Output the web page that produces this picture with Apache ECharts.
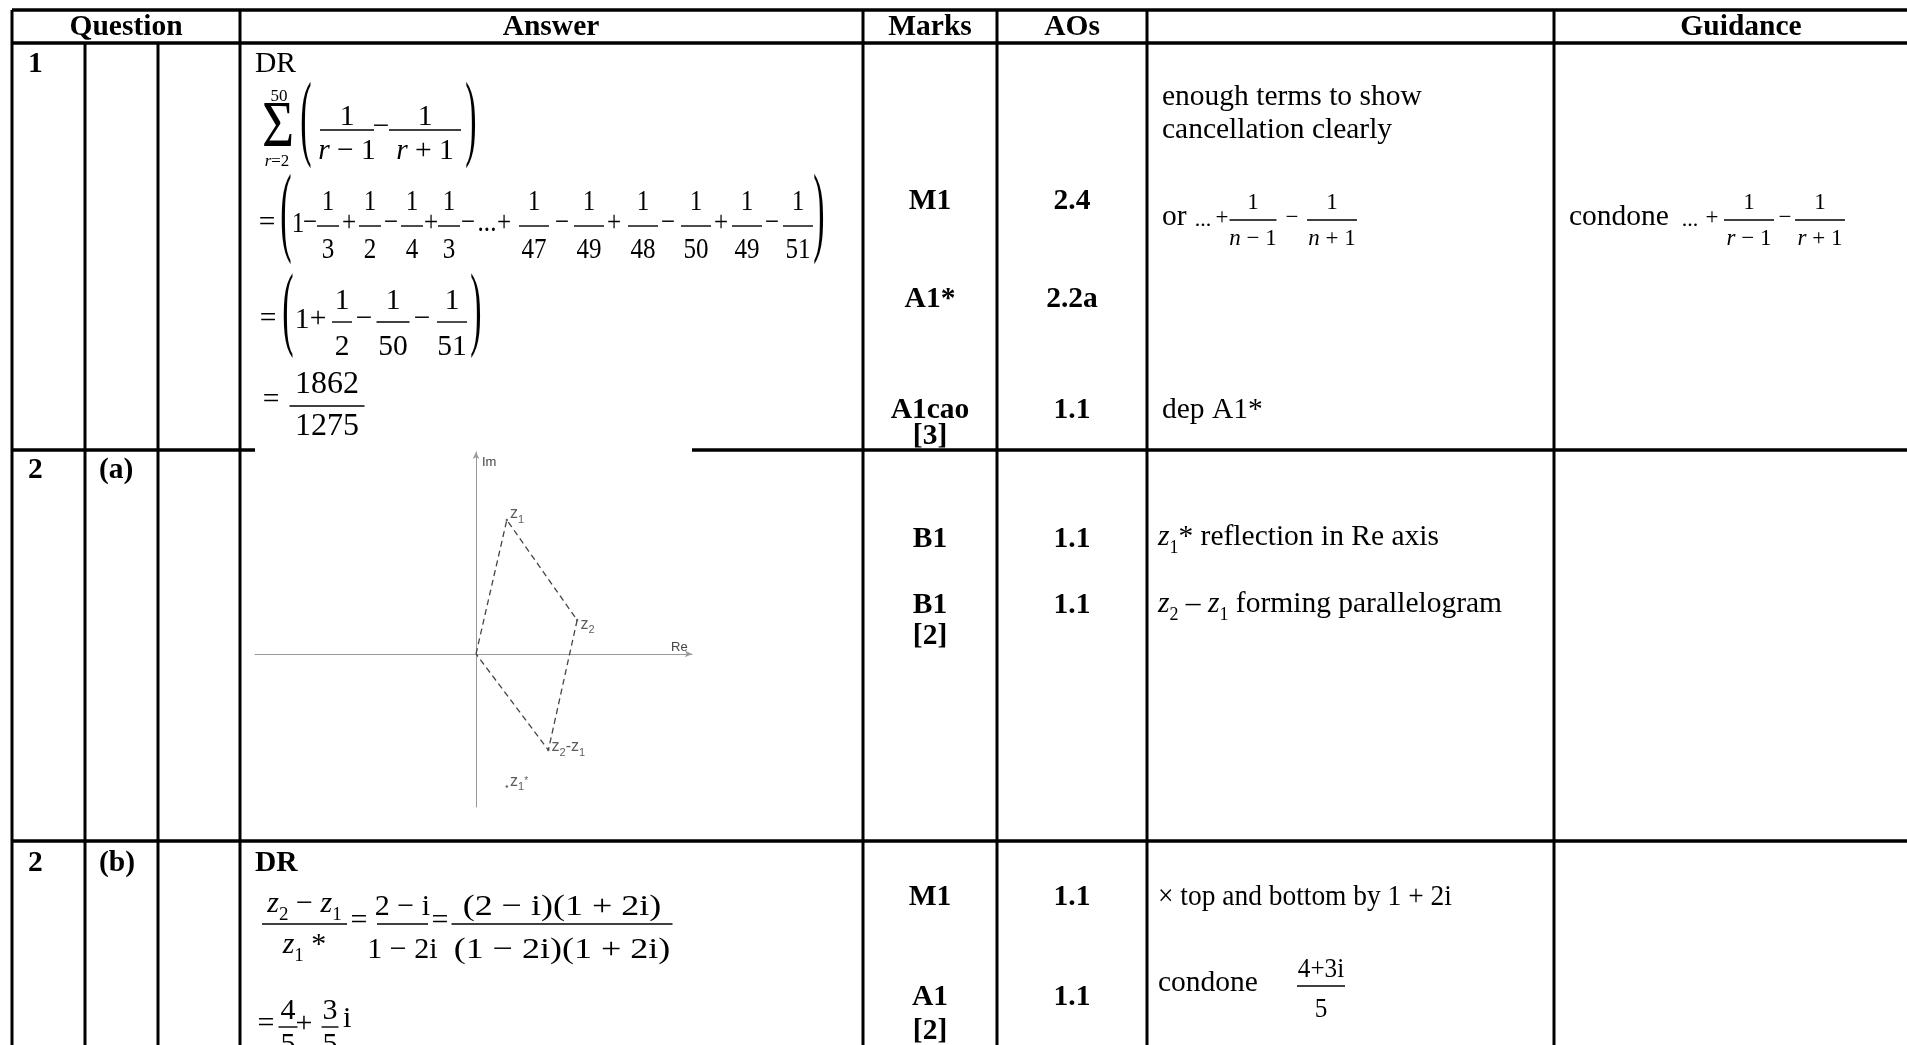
<!DOCTYPE html>
<html>
<head>
<meta charset="utf-8">
<title>Mark scheme</title>
<script src="https://cdn.jsdelivr.net/npm/echarts@6.0.0/dist/echarts.min.js"></script>
<style>
html, body { margin: 0; padding: 0; background: #fff; }
#chart { width: 1907px; height: 1045px; }
</style>
</head>
<body>
<div id="chart"></div>
<script>
// column headings
const headings = ['Question', 'Answer', 'Marks', 'AOs', '', 'Guidance']
const questionNumbers = ['1', '2', '2']
const questionParts = ['', '(a)', '(b)']
// marks and AOs, read top to bottom
const marks = ['M1', 'A1*', 'A1cao', '[3]', 'B1', 'B1', '[2]', 'M1', 'A1', '[2]']
const aos = ['2.4', '2.2a', '1.1', '', '1.1', '1.1', '', '1.1', '1.1', '']
// Argand diagram in Q2(a)
const pointNames = ['z1', 'z2', 'z2-z1', 'z1*']
const pointRe = [0.92, 3.02, 2.16, 0.92]
const pointIm = [4.0, 1.01, -2.87, -3.96]
const outline = ['O', 'z1', 'z2', 'z2-z1', 'O']
const reExtent = [-6.6, 6.45]
const imExtent = [-4.57, 6.03]

// table layout
const colX = [12, 85, 158, 240, 863, 997, 1147, 1554]
const rowY = [10, 43, 450, 841]
const headX = [126, 551, 930, 1072, 1350, 1741]
const questionY = [64, 470, 863]
const markY = [201, 299, 410, 436, 539, 605, 636, 897, 997, 1031]
const labelOffsets = [[0, -3], [0, 7], [0, 0], [0, -2]]

const SERIF = 'Liberation Serif'
const FS = 29.5
const els = []

function L(x1, y1, x2, y2, w) {
    els.push({type: 'line', silent: true, z: 50, shape: {x1, y1, x2, y2}, style: {stroke: '#000', lineWidth: w || 1.4}})
}

function T(x, y, text, o = {}) {
    els.push({
        type: 'text', x, y, scaleX: o.sx || 1, scaleY: o.sy || 1, silent: true, z: 100,
        style: {
            x: 0, y: 0, text, fill: '#000',
            fontFamily: SERIF, fontSize: o.fs || FS,
            fontWeight: o.bold ? 'bold' : 'normal',
            fontStyle: o.italic ? 'italic' : 'normal',
            align: o.align || 'left', verticalAlign: 'middle'
        }
    })
}

// rich text with italic letters and subscripts, parts = [[style, text], ...]
function M(x, y, parts, o = {}) {
    const fs = o.fs || FS
    const pad = Math.round(fs * 0.18)
    const base = {fontFamily: SERIF, fontSize: fs, lineHeight: fs, verticalAlign: 'bottom', padding: [0, 0, pad, 0]}
    const sub = Math.round(fs * 0.62)
    els.push({
        type: 'text', x, y: y + pad / 2, scaleX: o.sx || 1, silent: true, z: 100,
        style: {
            x: 0, y: 0, fill: '#000', fontFamily: SERIF, fontSize: fs,
            align: o.align || 'left', verticalAlign: 'middle',
            text: parts.map(p => '{' + p[0] + '|' + p[1] + '}').join(''),
            rich: {
                n: base,
                i: Object.assign({}, base, {fontStyle: 'italic'}),
                s: {fontFamily: SERIF, fontSize: sub, lineHeight: sub, verticalAlign: 'bottom'}
            }
        }
    })
}

function put(x, y, content, o) {
    if (Array.isArray(content)) M(x, y, content, Object.assign({align: 'center'}, o))
    else T(x, y, content, Object.assign({align: 'center'}, o))
}

function F(cx, bar, w, num, den, o = {}) {
    L(cx - w / 2, bar, cx + w / 2, bar, o.lw || 1.4)
    put(cx, bar - (o.up || 24), num, o)
    put(cx, bar + (o.dn || 24), den, o)
}

// operator centred on the maths axis
function OP(cx, axisY, ch, o = {}) {
    const fs = o.fs || FS
    T(cx, axisY - 0.08 * fs, ch, Object.assign({align: 'center'}, o))
}

// stretched bracket
function P(ch, cx, cy, h, o = {}) {
    const fs = FS
    const sy = h / (0.853 * fs)
    T(cx, cy - 0.088 * fs * sy, ch, {align: 'center', sx: o.sx || 1.15, sy})
}

// ---- table rules
L(colX[0], rowY[0], 1907, rowY[0], 3.5)
L(colX[0], rowY[1], 1907, rowY[1], 3.5)
L(colX[0], rowY[2], 255, rowY[2], 3.5)
L(692, rowY[2], 1907, rowY[2], 3.5)
L(colX[0], rowY[3], 1907, rowY[3], 3.5)
colX.forEach((x, k) => L(x, (k === 1 || k === 2) ? rowY[1] : rowY[0], x, 1045, 3))

// ---- headings and question numbers
headings.forEach((h, k) => { if (h) T(headX[k], 27, h, {bold: true, align: 'center'}) })
questionNumbers.forEach((q, k) => {
    T(28, questionY[k], q, {bold: true})
    if (questionParts[k]) T(99, questionY[k], questionParts[k], {bold: true})
})

// ---- marks and AOs
marks.forEach((m, k) => T(930, markY[k], m, {bold: true, align: 'center'}))
aos.forEach((a, k) => { if (a) T(1072, markY[k], a, {bold: true, align: 'center'}) })

// ---- Q1 answer
T(255, 64, 'DR')
T(278, 128.5, 'Σ', {fs: 48, sx: 1.15, sy: 1.35, align: 'center'})
T(279, 96.5, '50', {fs: 17, align: 'center'})
M(277, 163, [['i', 'r'], ['n', '=2']], {fs: 17, align: 'center'})
P('(', 306, 131, 82)
F(347, 130, 54, '1', [['i', 'r'], ['n', ' − 1']], {up: 13, dn: 24})
OP(381, 130, '−')
F(425, 130, 72, '1', [['i', 'r'], ['n', ' + 1']], {up: 13, dn: 24})
P(')', 471, 131, 82)

// telescoping line
const c3 = {sx: 0.85}
OP(267, 226, '=')
P('(', 286, 226, 84)
T(298, 224, '1', {align: 'center', sx: 0.85})
const teleOps = ['−', '+', '−', '+', '−', '−', '+', '−', '+', '−']
const teleDen = ['3', '2', '4', '3', '47', '49', '48', '50', '49', '51']
const teleOpX = [310, 349, 391, 431, 468, 562, 614, 668, 721, 772]
const teleFracX = [328, 370, 412, 449, 534, 589, 643, 696, 747, 798]
teleDen.forEach((d, k) => {
    OP(teleOpX[k], 226, teleOps[k], c3)
    F(teleFracX[k], 226, d.length > 1 ? 30 : 22, '1', d, {sx: 0.85, up: 24, dn: 24})
})
T(487, 223.5, '...', {align: 'center', sx: 0.85})
OP(504, 226, '+', c3)
P(')', 819, 226, 84)

// collapsed line
OP(268, 322, '=')
P('(', 288, 322, 80)
T(302, 320, '1', {align: 'center'})
OP(318, 322, '+')
F(342, 322, 20, '1', '2', {up: 21, dn: 25})
OP(364, 322, '−')
F(393, 322, 33, '1', '50', {up: 21, dn: 25})
OP(422, 322, '−')
F(452, 322, 30, '1', '51', {up: 21, dn: 25})
P(')', 476, 322, 80)

OP(271, 403, '=')
F(327, 406, 75, '1862', '1275', {fs: 32, up: 21, dn: 21})

// ---- Q2(b) answer
T(255, 863, 'DR', {bold: true})
F(304.5, 924, 85, [['i', 'z'], ['s', '2'], ['n', ' − '], ['i', 'z'], ['s', '1']],
    [['i', 'z'], ['s', '1'], ['n', ' *']], {fs: 30, up: 17, dn: 24})
OP(359, 924, '=', {fs: 30})
F(402.5, 924, 51, '2 − i', '1 − 2i', {fs: 30, up: 17, dn: 26})
OP(440, 924, '=', {fs: 30})
F(562, 924, 221, '(2 − i)(1 + 2i)', '(1 − 2i)(1 + 2i)', {fs: 30, sx: 1.2, up: 17, dn: 26})
OP(266, 1027, '=', {fs: 30})
F(288, 1027, 19, '4', '5', {fs: 30, up: 16, dn: 18})
OP(304, 1027, '+', {fs: 30})
F(330, 1027, 17, '3', '5', {fs: 30, up: 16, dn: 18})
T(343, 1019, 'i', {fs: 30})

// ---- comments column
T(1162, 97, 'enough terms to show')
T(1162, 130, 'cancellation clearly')
T(1162, 217, 'or')
T(1203, 220.5, '...', {fs: 22, align: 'center'})
OP(1222, 220, '+', {fs: 23})
F(1253, 220, 47, '1', [['i', 'n'], ['n', ' − 1']], {fs: 23, up: 17, dn: 21})
OP(1292, 220, '−', {fs: 23})
F(1332, 220, 50, '1', [['i', 'n'], ['n', ' + 1']], {fs: 23, up: 17, dn: 21})
T(1162, 410, 'dep A1*')

M(1158, 540, [['i', 'z'], ['s', '1'], ['n', '* reflection in Re axis']])
M(1158, 607, [['i', 'z'], ['s', '2'], ['n', ' – '], ['i', 'z'], ['s', '1'], ['n', ' forming parallelogram']])

T(1158, 897, '× top and bottom by 1 + 2i', {sx: 0.93})
T(1158, 983, 'condone')
F(1321, 986, 48, '4+3i', '5', {fs: 28, sx: 0.9, up: 16, dn: 24})

// ---- guidance column
T(1569, 217, 'condone')
T(1690, 220.5, '...', {fs: 22, align: 'center'})
OP(1712, 220, '+', {fs: 23})
F(1749, 220, 50, '1', [['i', 'r'], ['n', ' − 1']], {fs: 23, up: 17, dn: 21})
OP(1785, 220, '−', {fs: 23})
F(1820, 220, 50, '1', [['i', 'r'], ['n', ' + 1']], {fs: 23, up: 17, dn: 21})

// ---- Argand diagram
const pointAt = name => name === 'O' ? [0, 0] : [pointRe[pointNames.indexOf(name)], pointIm[pointNames.indexOf(name)]]
const pointData = pointNames.map((n, k) => ({
    name: n,
    value: [pointRe[k], pointIm[k]],
    label: {offset: labelOffsets[k]}
}))
const labelText = name => name
    .replace(/z(\d)/g, '{z|z}{s|$1}')
    .replace('-', '{z|-}')
    .replace('*', '{t|*}')

const axisName = {fontFamily: 'Liberation Sans', fontSize: 13, color: '#444'}
const labelRich = {
    z: {fontFamily: 'Liberation Sans', fontSize: 16, lineHeight: 16, color: '#333', verticalAlign: 'bottom', padding: [0, 0, 3, 0]},
    s: {fontFamily: 'Liberation Sans', fontSize: 11, lineHeight: 11, color: '#333', verticalAlign: 'bottom'},
    t: {fontFamily: 'Liberation Sans', fontSize: 10, lineHeight: 10, color: '#333', verticalAlign: 'top'}
}
const chart = echarts.init(document.getElementById('chart'), null, {renderer: 'canvas'})
chart.setOption({
    animation: false,
    backgroundColor: '#fff',
    grid: {left: 255, top: 452, width: 437, height: 355, containLabel: false, outerBoundsMode: 'none'},
    xAxis: {
        type: 'value', min: reExtent[0], max: reExtent[1],
        name: 'Re', nameLocation: 'end', nameGap: -21,
        nameTextStyle: Object.assign({verticalAlign: 'bottom'}, axisName),
        axisLine: {onZero: true, symbol: ['none', 'arrow'], symbolSize: [5, 7], lineStyle: {color: '#999', width: 1}},
        axisTick: {show: false}, axisLabel: {show: false}, splitLine: {show: false}
    },
    yAxis: {
        type: 'value', min: imExtent[0], max: imExtent[1],
        name: 'Im', nameLocation: 'end', nameGap: -17,
        nameTextStyle: Object.assign({align: 'left', padding: [0, 0, 0, 6]}, axisName),
        axisLine: {onZero: true, symbol: ['none', 'arrow'], symbolSize: [5, 7], lineStyle: {color: '#999', width: 1}},
        axisTick: {show: false}, axisLabel: {show: false}, splitLine: {show: false}
    },
    series: [{
        type: 'line',
        data: outline.map(pointAt),
        symbol: 'none',
        silent: true,
        lineStyle: {color: '#444', width: 1.3, type: [6, 4]}
    }, {
        type: 'scatter',
        data: pointData,
        symbolSize: 2.5,
        silent: true,
        itemStyle: {color: '#444'},
        label: {
            show: true, position: 'right', distance: 2,
            formatter: p => labelText(p.name),
            rich: labelRich
        }
    }],
    graphic: {elements: els}
})
</script>
</body>
</html>
